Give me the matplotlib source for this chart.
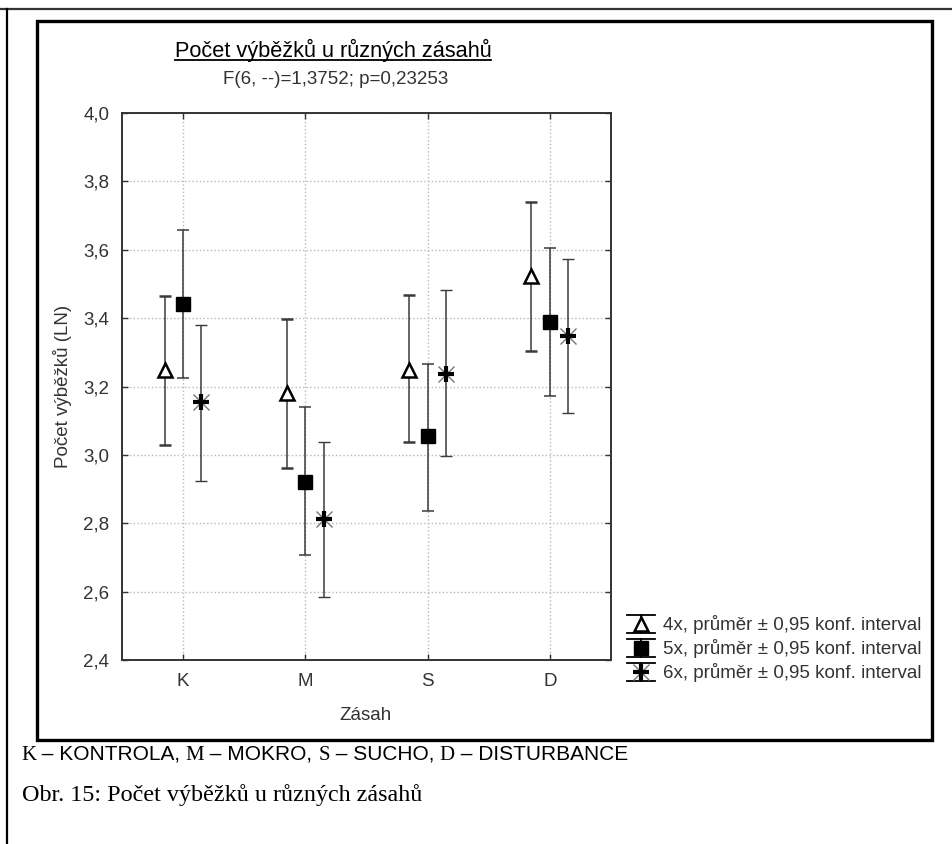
import numpy as np
import matplotlib.pyplot as plt
from matplotlib.lines import Line2D
from matplotlib.patches import Rectangle
from matplotlib.ticker import FuncFormatter

# hodnoty (LN pocet vybezku), prumer a meze 0,95 intervalu
categories = ['K', 'M', 'S', 'D']
series = ['4x', '5x', '6x']
mean_4x = [3.247, 3.180, 3.247, 3.522]
low_4x = [3.030, 2.961, 3.037, 3.303]
high_4x = [3.464, 3.397, 3.469, 3.739]
mean_5x = [3.442, 2.922, 3.054, 3.388]
low_5x = [3.226, 2.707, 2.837, 3.171]
high_5x = [3.657, 3.141, 3.267, 3.606]
mean_6x = [3.154, 2.812, 3.237, 3.349]
low_6x = [2.925, 2.585, 2.997, 3.122]
high_6x = [3.379, 3.039, 3.481, 3.574]
y_ticks = [2.4, 2.6, 2.8, 3.0, 3.2, 3.4, 3.6, 3.8, 4.0]

W, H = 953, 844
sans = 'Liberation Sans'
serif = 'Liberation Serif'


def fx(px):
    return px / W


def fy(py):
    return 1 - py / H


fig = plt.figure(figsize=(W / 100, H / 100), dpi=100)

# ramecky okolo
fig.add_artist(Line2D([0, 1], [fy(9), fy(9)], transform=fig.transFigure, color='#333333', lw=1.6))
fig.add_artist(Line2D([fx(7), fx(7)], [fy(9), 0], transform=fig.transFigure, color='black', lw=1.6))
fig.add_artist(Rectangle((fx(37), fy(740)), fx(932) - fx(37), fy(21) - fy(740),
                         transform=fig.transFigure, fill=False, ec='black', lw=2.4))

ax = fig.add_axes([fx(121.7), fy(660), fx(611) - fx(121.7), fy(113) - fy(660)])
x = np.arange(1, len(categories) + 1)
offset = 0.15

ekw = dict(ls='none', ecolor='#3a3a3a', elinewidth=1.1, capsize=4, capthick=1.1, zorder=3)
ax.errorbar(x - offset, mean_4x, yerr=[np.subtract(mean_4x, low_4x), np.subtract(high_4x, mean_4x)],
            marker='^', ms=10, mfc='white', mec='black', mew=1.8, **ekw)
ax.errorbar(x, mean_5x, yerr=[np.subtract(mean_5x, low_5x), np.subtract(high_5x, mean_5x)],
            marker='s', ms=10, mfc='black', mec='black', **ekw)
ax.errorbar(x + offset, mean_6x, yerr=[np.subtract(mean_6x, low_6x), np.subtract(high_6x, mean_6x)],
            marker='x', ms=11, mec='#777777', mew=1.0, **ekw)
ax.plot(x + offset, mean_6x, ls='none', marker='+', ms=12, mec='black', mew=3, zorder=4)

ax.set_xlim(0.5, 4.5)
ax.set_ylim(2.4, 4.0)
ax.set_xticks(x)
ax.set_xticklabels(categories)
ax.set_yticks(y_ticks)
ax.yaxis.set_major_formatter(FuncFormatter(lambda v, p: ('%.1f' % v).replace('.', ',')))
ax.tick_params(direction='in', length=4, width=1, color='#333333', top=True, right=True,
               labelsize=13.5, labelcolor='#333333', pad=9)
for lab in ax.get_xticklabels() + ax.get_yticklabels():
    lab.set_family(sans)
ax.grid(True, ls=':', color='#b8b8b8', lw=1.0)
for s in ax.spines.values():
    s.set_color('#333333')
    s.set_linewidth(1.4)

fig.text(fx(63), fy(386), 'Počet výběžků (LN)', rotation=90, ha='center', va='center',
         fontsize=13.5, family=sans, color='#333333')
fig.text(fx(366), fy(716), 'Zásah', ha='center', va='center', fontsize=13.5, family=sans, color='#333333')

t = fig.text(fx(333), fy(57), 'Počet výběžků u různých zásahů', ha='center', va='baseline',
             fontsize=15.7, family=sans, color='black')
fig.text(fx(336), fy(80), 'F(6, --)=1,3752; p=0,23253', ha='center', va='center',
         fontsize=13.5, family=sans, color='#333333')

# legenda
for i, lab in enumerate(series):
    cy = 624 + 24 * i
    for yy in (cy - 9, cy + 9):
        fig.add_artist(Line2D([fx(627), fx(655)], [fy(yy), fy(yy)], transform=fig.transFigure,
                              color='black', lw=1.3))
    fig.add_artist(Line2D([fx(641), fx(641)], [fy(cy - 9), fy(cy + 9)], transform=fig.transFigure,
                          color='black', lw=1.3))
    fig.text(fx(663), fy(cy), lab + ', průměr ± 0,95 konf. interval', ha='left', va='center',
             fontsize=13.5, family=sans, color='#333333')
leg_y = [fy(624 + 24 * i) for i in range(3)]
fig.add_artist(Line2D([fx(641)], [leg_y[0]], transform=fig.transFigure, ls='none', marker='^', ms=10,
                      mfc='white', mec='black', mew=1.8))
fig.add_artist(Line2D([fx(641)], [leg_y[1]], transform=fig.transFigure, ls='none', marker='s', ms=10,
                      mfc='black', mec='black'))
fig.add_artist(Line2D([fx(641)], [leg_y[2]], transform=fig.transFigure, ls='none', marker='x', ms=11,
                      mec='#777777', mew=1.0))
fig.add_artist(Line2D([fx(641)], [leg_y[2]], transform=fig.transFigure, ls='none', marker='+', ms=12,
                      mec='black', mew=3))

# popisky pod grafem (smichane pismo jako v dokumentu)
fig.canvas.draw()
renderer = fig.canvas.get_renderer()
parts = [('K', serif), (' – KONTROLA, ', sans), ('M', serif), (' – MOKRO, ', sans), ('S', serif),
         (' – SUCHO, ', sans), ('D', serif), (' – DISTURBANCE', sans)]
xpos = 21
for txt, fam in parts:
    tt = fig.text(fx(xpos), fy(760), txt, ha='left', va='baseline', fontsize=15, family=fam, color='black')
    bb = tt.get_window_extent(renderer)
    xpos += bb.width

fig.text(fx(22), fy(801), 'Obr. 15: Počet výběžků u různých zásahů', ha='left', va='baseline',
         fontsize=17.4, family=serif, color='black')

# podtrzeni nadpisu
bb = t.get_window_extent(renderer)
fig.add_artist(Line2D([bb.x0 / W, bb.x1 / W], [fy(60), fy(60)], transform=fig.transFigure,
                      color='black', lw=1.3))

fig.savefig('out.png', dpi=100)
